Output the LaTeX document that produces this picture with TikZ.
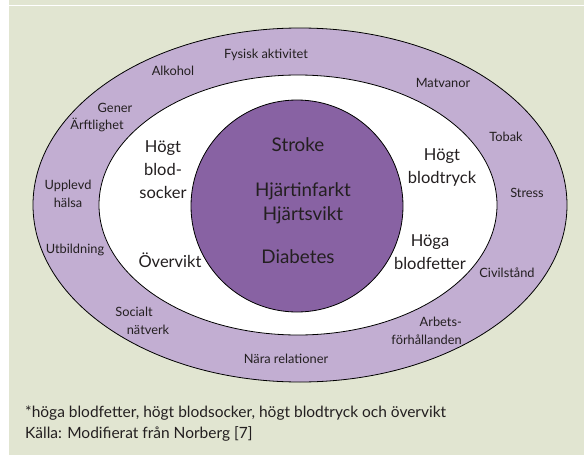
\documentclass[tikz,border=0pt]{standalone}
\usepackage{fontspec}
\setmainfont{Lato}
\usepackage{tikz}

\definecolor{panelgreen}{HTML}{E1E5D1}
\definecolor{ringlilac}{HTML}{C2AED2}
\definecolor{corepurple}{HTML}{8862A3}
\definecolor{inkgrey}{HTML}{231F20}

\tikzset{
    ringline/.style={draw=black,line width=0.8pt},
    outerlbl/.style={text=inkgrey,align=center,inner sep=0pt,
        font=\fontsize{12.8}{18}\selectfont},
    innerlbl/.style={text=inkgrey,align=center,inner sep=0pt,
        font=\fontsize{16.5}{23}\selectfont},
    corelbl/.style={text=inkgrey,align=center,inner sep=0pt,
        font=\fontsize{18.8}{24}\selectfont},
    notelbl/.style={text=inkgrey,anchor=west,inner sep=0pt,
        font=\fontsize{15.5}{20}\selectfont}
}

\begin{document}
\begin{tikzpicture}[x=1pt,y=-1pt]
                \useasboundingbox (0,0) rectangle (584,455);
                \fill[white] (0,0) rectangle (584,455);
                \fill[panelgreen] (9,0) rectangle (584,455);
                \draw[white,line width=1.5pt] (9,5.5) -- (584,5.5);

                \filldraw[ringline,fill=ringlilac] (300,205) ellipse (267 and 177);
                \filldraw[ringline,fill=white] (298,205) ellipse (199 and 130);
                \filldraw[ringline,fill=corepurple] (297,206) circle (106);

                \node[corelbl] (stroke) at (298,145) {Stroke};
                \node[corelbl] (hjarta) at (303,203) {Hjärtinfarkt\\Hjärtsvikt};
                \node[corelbl] (diabetes) at (298,257) {Diabetes};

                \node[innerlbl] (blodsocker) at (163,170) {Högt\\blod-\\socker};
                \node[innerlbl] (overvikt) at (170,260) {Övervikt};
                \node[innerlbl] (blodtryck) at (442,168) {Högt\\blodtryck};
                \node[innerlbl] (blodfetter) at (430,252) {Höga\\blodfetter};

                \node[outerlbl] (fysisk) at (266,55) {Fysisk aktivitet};
                \node[outerlbl] (alkohol) at (173,71) {Alkohol};
                \node[outerlbl] (matvanor) at (443,83) {Matvanor};
                \node[outerlbl] (gener) at (115,108) {Gener};
                \node[outerlbl] (arftlighet) at (97,125) {Ärftlighet};
                \node[outerlbl] (tobak) at (506,137) {Tobak};
                \node[outerlbl] (upplevd) at (68,194) {Upplevd\\hälsa};
                \node[outerlbl] (stress) at (527,193) {Stress};
                \node[outerlbl] (utbildning) at (75,250) {Utbildning};
                \node[outerlbl] (civilstand) at (507,273) {Civilstånd};
                \node[outerlbl] (socialt) at (134,312) {Socialt};
                \node[outerlbl] (natverk) at (148,330) {nätverk};
                \node[outerlbl,align=right,anchor=east] (arbete) at (462,331) {Arbets-\\förhållanden};
                \node[outerlbl] (nara) at (286,359) {Nära relationer};

                \node[notelbl] (fotnot) at (25,413) {*höga blodfetter, högt blodsocker, högt blodtryck och övervikt};
                \node[notelbl] (kalla) at (25,434) {Källa: Modifierat från Norberg [7]};
            \end{tikzpicture}
\end{document}
